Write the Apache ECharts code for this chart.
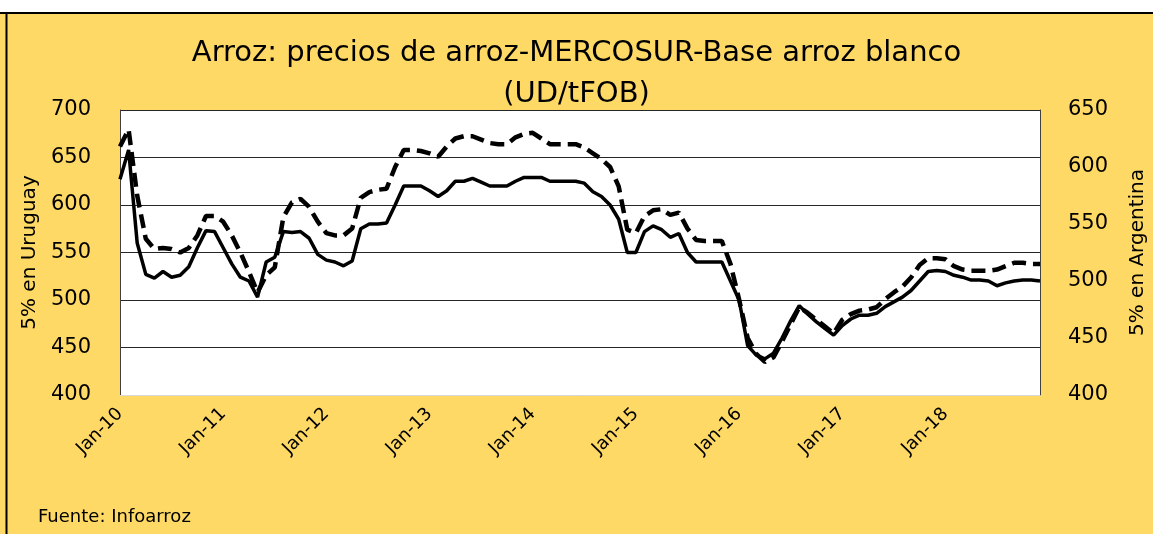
<!DOCTYPE html>
<html>
<head>
<meta charset="utf-8">
<script src="https://cdn.jsdelivr.net/npm/echarts@6/dist/echarts.min.js"></script>
<style>
html,body{margin:0;padding:0;background:#fff;}
#c{width:1153px;height:534px;}
</style>
</head>
<body>
<div id="c"></div>
<script>
const years = ['10','11','12','13','14','15','16','17','18'];
const monthNames = ['Jan','Feb','Mar','Apr','May','Jun','Jul','Aug','Sep','Oct','Nov','Dec'];
const leftTicks = [400, 450, 500, 550, 600, 650, 700];
const rightTicks = [400, 450, 500, 550, 600, 650];

// 5% en Uruguay (left axis), monthly Jan-10 .. Dec-18
const uruguay = [
  627, 658, 560, 527, 523, 530, 524, 526, 535, 555, 573, 572,
  555, 538, 524, 520, 503, 540, 545, 572, 571, 572, 565, 548,
  542, 540, 536, 541, 575, 580, 580, 581, 600, 620, 620, 620,
  615, 609, 615, 625, 625, 628, 624, 620, 620, 620, 625, 629,
  629, 629, 625, 625, 625, 625, 623, 614, 609, 600, 585, 550,
  550, 572, 578, 574, 566, 570, 550, 540, 540, 540, 540, 520,
  500, 452, 442, 438, 444, 460, 478, 494, 485, 477, 470, 463,
  473, 480, 484, 484, 486, 493, 498, 503, 510, 520, 530, 531,
  530, 526, 524, 521, 521, 520, 515, 518, 520, 521, 521, 520
];
// 5% en Argentina (right axis)
const argentina = [
  618, 633, 575, 537, 528, 529, 528, 525, 529, 540, 557, 557,
  552, 540, 525, 508, 490, 505, 512, 556, 569, 572, 565, 552,
  542, 540, 540, 546, 573, 578, 580, 581, 600, 615, 615, 614,
  612, 609, 618, 625, 627, 627, 624, 621, 620, 620, 626, 629,
  630, 625, 620, 620, 620, 620, 617, 612, 607, 600, 583, 545,
  542, 557, 562, 563, 558, 560, 546, 536, 535, 535, 535, 515,
  484, 450, 436, 429, 433, 447, 462, 477, 472, 466, 460, 454,
  466, 471, 474, 475, 477, 484, 490, 495, 503, 514, 520, 520,
  519, 513, 510, 509, 509, 509, 510, 513, 516, 516, 515, 515
];

const categories = [];
years.forEach(y => monthNames.forEach(m => categories.push(m + '-' + y)));

const FONT = 'DejaVu Sans';
const chart = echarts.init(document.getElementById('c'), null, {renderer: 'canvas'});
chart.setOption({
  backgroundColor: '#FFD966',
  animation: false,
  textStyle: {fontFamily: FONT},
  title: {
    text: 'Arroz: precios de arroz-MERCOSUR-Base arroz blanco\n(UD/tFOB)',
    left: 'center',
    top: 28,
    textStyle: {fontFamily: FONT, fontSize: 29, fontWeight: 'normal', color: '#000', lineHeight: 41}
  },
  grid: {
    left: 120, right: 113, top: 110, bottom: 139,
    outerBoundsMode: 'none', containLabel: false,
    show: true, backgroundColor: '#ffffff', borderWidth: 0
  },
  xAxis: {
    type: 'category',
    data: categories,
    boundaryGap: false,
    axisLine: {show: true, lineStyle: {color: '#d9d9d9', width: 1}},
    axisTick: {show: false},
    axisLabel: {
      interval: (i) => i % 12 === 0,
      rotate: 45,
      fontFamily: FONT,
      fontSize: 18,
      color: '#000',
      margin: 16
    },
    splitLine: {show: false}
  },
  yAxis: [
    {
      type: 'value', min: leftTicks[0], max: leftTicks[leftTicks.length - 1], interval: 50,
      position: 'left',
      name: '5% en Uruguay', nameLocation: 'middle', nameRotate: 90, nameGap: 72,
      nameTextStyle: {fontFamily: FONT, fontSize: 20, color: '#000'},
      axisLine: {show: true, lineStyle: {color: '#404040', width: 1}},
      axisTick: {show: false},
      axisLabel: {fontFamily: FONT, fontSize: 21, color: '#000', margin: 29},
      splitLine: {show: true, lineStyle: {color: '#262626', width: 1}}
    },
    {
      type: 'value', min: rightTicks[0], max: rightTicks[rightTicks.length - 1], interval: 50,
      position: 'right',
      name: '5% en Argentina', nameLocation: 'middle', nameRotate: 90, nameGap: 88,
      nameTextStyle: {fontFamily: FONT, fontSize: 20, color: '#000'},
      axisLine: {show: true, lineStyle: {color: '#404040', width: 1}},
      axisTick: {show: false},
      axisLabel: {fontFamily: FONT, fontSize: 21, color: '#000', margin: 28},
      splitLine: {show: false}
    }
  ],
  series: [
    {
      name: '5% en Uruguay', type: 'line', yAxisIndex: 0, data: uruguay,
      showSymbol: false, symbol: 'none',
      lineStyle: {color: '#000', width: 3.5, type: 'solid'}
    },
    {
      name: '5% en Argentina', type: 'line', yAxisIndex: 1, data: argentina,
      showSymbol: false, symbol: 'none',
      lineStyle: {color: '#000', width: 4.5, type: [14, 7]}
    }
  ],
  graphic: [
    {type: 'rect', left: 0, top: 0, shape: {width: 1153, height: 12}, style: {fill: '#ffffff'}, silent: true},
    {type: 'line', shape: {x1: 0, y1: 13, x2: 1153, y2: 13}, style: {stroke: '#000', lineWidth: 2}, silent: true},
    {type: 'line', shape: {x1: 6.5, y1: 12, x2: 6.5, y2: 534}, style: {stroke: '#000', lineWidth: 2}, silent: true},
    {type: 'text', left: 38, top: 508, style: {text: 'Fuente: Infoarroz', fontFamily: FONT, fontSize: 18, fill: '#000'}, silent: true}
  ]
});
</script>
</body>
</html>
